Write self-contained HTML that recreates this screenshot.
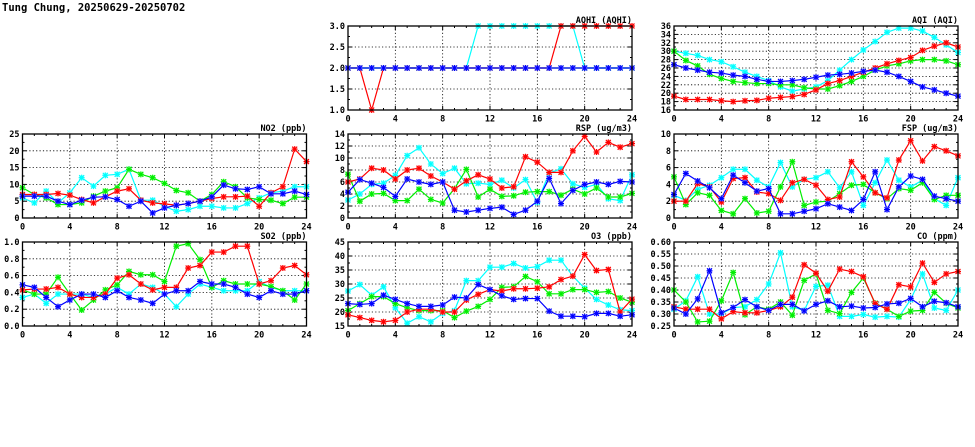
<!DOCTYPE html>
<html><head><meta charset="utf-8"><style>
html,body{margin:0;padding:0;background:#fff;}
svg{display:block;}
text{font-family:"DejaVu Sans Mono","Liberation Mono",monospace;font-weight:bold;font-size:8.5px;fill:#000;}
.t{font-size:9px;}
.xl{text-anchor:middle;}
.yl{text-anchor:end;}
.ti{text-anchor:end;}
</style></head><body>
<svg id="s" width="975" height="447" viewBox="0 0 975 447" xmlns="http://www.w3.org/2000/svg">
<rect width="975" height="447" fill="#fff"/>
<text x="2" y="11" class="t" style="font-size:10.5px">Tung Chung, 20250629-20250702</text>

<g id="AQHI" transform="translate(348,26)">
<text x="284" y="-3" class="ti">AQHI (AQHI)</text>
<text x="-3" y="87" class="yl">1.0</text><text x="-3" y="66" class="yl">1.5</text><text x="-3" y="45" class="yl">2.0</text><text x="-3" y="24" class="yl">2.5</text><text x="-3" y="3" class="yl">3.0</text>
<text x="0" y="95.5" class="xl">0</text><text x="47.3" y="95.5" class="xl">4</text><text x="94.7" y="95.5" class="xl">8</text><text x="142" y="95.5" class="xl">12</text><text x="189.3" y="95.5" class="xl">16</text><text x="236.7" y="95.5" class="xl">20</text><text x="284" y="95.5" class="xl">24</text>
</g>
<g id="AQI" transform="translate(674,26)">
<text x="284" y="-3" class="ti">AQI (AQI)</text>
<text x="-3" y="87" class="yl">16</text><text x="-3" y="78.6" class="yl">18</text><text x="-3" y="70.2" class="yl">20</text><text x="-3" y="61.8" class="yl">22</text><text x="-3" y="53.4" class="yl">24</text><text x="-3" y="45" class="yl">26</text><text x="-3" y="36.6" class="yl">28</text><text x="-3" y="28.2" class="yl">30</text><text x="-3" y="19.8" class="yl">32</text><text x="-3" y="11.4" class="yl">34</text><text x="-3" y="3" class="yl">36</text>
<text x="0" y="95.5" class="xl">0</text><text x="47.3" y="95.5" class="xl">4</text><text x="94.7" y="95.5" class="xl">8</text><text x="142" y="95.5" class="xl">12</text><text x="189.3" y="95.5" class="xl">16</text><text x="236.7" y="95.5" class="xl">20</text><text x="284" y="95.5" class="xl">24</text>
</g>
<g id="NO2" transform="translate(22.5,134)">
<text x="284" y="-3" class="ti">NO2 (ppb)</text>
<text x="-3" y="87" class="yl">0</text><text x="-3" y="70.2" class="yl">5</text><text x="-3" y="53.4" class="yl">10</text><text x="-3" y="36.6" class="yl">15</text><text x="-3" y="19.8" class="yl">20</text><text x="-3" y="3" class="yl">25</text>
<text x="0" y="95.5" class="xl">0</text><text x="47.3" y="95.5" class="xl">4</text><text x="94.7" y="95.5" class="xl">8</text><text x="142" y="95.5" class="xl">12</text><text x="189.3" y="95.5" class="xl">16</text><text x="236.7" y="95.5" class="xl">20</text><text x="284" y="95.5" class="xl">24</text>
</g>
<g id="RSP" transform="translate(348,134)">
<text x="284" y="-3" class="ti">RSP (ug/m3)</text>
<text x="-3" y="87" class="yl">0</text><text x="-3" y="75" class="yl">2</text><text x="-3" y="63" class="yl">4</text><text x="-3" y="51" class="yl">6</text><text x="-3" y="39" class="yl">8</text><text x="-3" y="27" class="yl">10</text><text x="-3" y="15" class="yl">12</text><text x="-3" y="3" class="yl">14</text>
<text x="0" y="95.5" class="xl">0</text><text x="47.3" y="95.5" class="xl">4</text><text x="94.7" y="95.5" class="xl">8</text><text x="142" y="95.5" class="xl">12</text><text x="189.3" y="95.5" class="xl">16</text><text x="236.7" y="95.5" class="xl">20</text><text x="284" y="95.5" class="xl">24</text>
</g>
<g id="FSP" transform="translate(674,134)">
<text x="284" y="-3" class="ti">FSP (ug/m3)</text>
<text x="-3" y="87" class="yl">0</text><text x="-3" y="70.2" class="yl">2</text><text x="-3" y="53.4" class="yl">4</text><text x="-3" y="36.6" class="yl">6</text><text x="-3" y="19.8" class="yl">8</text><text x="-3" y="3" class="yl">10</text>
<text x="0" y="95.5" class="xl">0</text><text x="47.3" y="95.5" class="xl">4</text><text x="94.7" y="95.5" class="xl">8</text><text x="142" y="95.5" class="xl">12</text><text x="189.3" y="95.5" class="xl">16</text><text x="236.7" y="95.5" class="xl">20</text><text x="284" y="95.5" class="xl">24</text>
</g>
<g id="SO2" transform="translate(22.5,242)">
<text x="284" y="-3" class="ti">SO2 (ppb)</text>
<text x="-3" y="87" class="yl">0.0</text><text x="-3" y="70.2" class="yl">0.2</text><text x="-3" y="53.4" class="yl">0.4</text><text x="-3" y="36.6" class="yl">0.6</text><text x="-3" y="19.8" class="yl">0.8</text><text x="-3" y="3" class="yl">1.0</text>
<text x="0" y="95.5" class="xl">0</text><text x="47.3" y="95.5" class="xl">4</text><text x="94.7" y="95.5" class="xl">8</text><text x="142" y="95.5" class="xl">12</text><text x="189.3" y="95.5" class="xl">16</text><text x="236.7" y="95.5" class="xl">20</text><text x="284" y="95.5" class="xl">24</text>
</g>
<g id="O3" transform="translate(348,242)">
<text x="284" y="-3" class="ti">O3 (ppb)</text>
<text x="-3" y="87" class="yl">15</text><text x="-3" y="73" class="yl">20</text><text x="-3" y="59" class="yl">25</text><text x="-3" y="45" class="yl">30</text><text x="-3" y="31" class="yl">35</text><text x="-3" y="17" class="yl">40</text><text x="-3" y="3" class="yl">45</text>
<text x="0" y="95.5" class="xl">0</text><text x="47.3" y="95.5" class="xl">4</text><text x="94.7" y="95.5" class="xl">8</text><text x="142" y="95.5" class="xl">12</text><text x="189.3" y="95.5" class="xl">16</text><text x="236.7" y="95.5" class="xl">20</text><text x="284" y="95.5" class="xl">24</text>
</g>
<g id="CO" transform="translate(674,242)">
<text x="284" y="-3" class="ti">CO (ppm)</text>
<text x="-3" y="87" class="yl">0.25</text><text x="-3" y="75" class="yl">0.30</text><text x="-3" y="63" class="yl">0.35</text><text x="-3" y="51" class="yl">0.40</text><text x="-3" y="39" class="yl">0.45</text><text x="-3" y="27" class="yl">0.50</text><text x="-3" y="15" class="yl">0.55</text><text x="-3" y="3" class="yl">0.60</text>
<text x="0" y="95.5" class="xl">0</text><text x="47.3" y="95.5" class="xl">4</text><text x="94.7" y="95.5" class="xl">8</text><text x="142" y="95.5" class="xl">12</text><text x="189.3" y="95.5" class="xl">16</text><text x="236.7" y="95.5" class="xl">20</text><text x="284" y="95.5" class="xl">24</text>
</g>
</svg>
<script>
var W=284,H=84,NS="http://www.w3.org/2000/svg";
function el(g,n,a){var e=document.createElementNS(NS,n);for(var k in a)e.setAttribute(k,a[k]);g.appendChild(e);return e;}
var P={
AQHI:{min:1,max:3,step:0.5,d:{
c:[2,2,2,2,2,2,2,2,2,2,2,3,3,3,3,3,3,3,3,3,2,2,2,2,2],
g:[2,2,2,2,2,2,2,2,2,2,2,2,2,2,2,2,2,2,2,2,2,2,2,2,2],
r:[2,2,1,2,2,2,2,2,2,2,2,2,2,2,2,2,2,2,3,3,3,3,3,3,3],
b:[2,2,2,2,2,2,2,2,2,2,2,2,2,2,2,2,2,2,2,2,2,2,2,2,2]}},
AQI:{min:16,max:36,step:2,d:{
c:[30,29.5,29,28,27.5,26.3,25,24,23,21.5,20.5,21,21.5,23,25.5,28,30.3,32.3,34.5,35.5,35.5,34.8,33.3,31.5,29.7],
g:[30,27.8,26.5,24.5,23.5,22.8,22.5,22.3,22.3,22,22,21.3,21,21,21.8,22.8,24,25.5,26.5,27,27.7,28,28,27.7,26.8],
b:[26.8,26,25.5,25,24.8,24.3,24,23.3,22.8,22.8,23,23.3,23.8,24.3,24.5,24.8,25.2,25.5,25,24,22.8,21.5,20.8,20,19.3],
r:[19.3,18.5,18.5,18.5,18.2,18,18.2,18.3,18.8,19,19.2,19.7,20.8,22.3,23,24,25,26,27,27.8,28.5,30.2,31.2,32,31]}},
NO2:{min:0,max:25,step:5,d:{
c:[6,4.5,8,4.5,7.5,12,9.5,12.7,13,14.5,5.3,5.3,3.5,2,2.5,3.5,3.5,3,3,4.3,6,7.5,8,9.3,9.3],
g:[9,7,6,4,4,4.5,6.5,8,9,14.5,13,12,10.3,8.2,7.5,5,7,10.8,9.3,6,5.5,5.3,4.3,6.2,6.2],
b:[6.5,6.5,6.5,5,4,5.3,6.2,6.3,5.5,3.5,5,1.5,3,3.8,4.3,5,6.3,9.8,8.7,8.5,9.3,7.2,7.2,8,7],
r:[7,7,7,7.3,6.8,5.5,4.5,6.3,8,8.7,5.3,4.5,4.2,3.8,4.3,5,5.8,6.3,6.3,6.5,3.5,7.5,9.3,20.5,16.8]}},
RSP:{min:0,max:14,step:2,d:{
c:[3,4,5.6,5.8,7.1,10.4,11.7,9,7.4,8.3,5.7,5.8,5.6,6.3,5,6.4,2.6,7.5,8.2,5.7,5.1,5.6,3.2,2.9,7.2],
g:[7.3,2.8,4,4.1,2.9,2.9,4.8,3.1,2.5,4.9,8.1,3.5,4.8,3.6,3.7,4.3,4.4,4.4,3.8,4.8,4,5,3.5,3.5,4.1],
b:[4.3,6.4,5.8,5.1,3.6,6.5,6,5.6,6,1.3,1,1.3,1.6,1.8,0.6,1.3,2.8,6.6,2.4,4.6,5.6,6,5.6,6.1,6],
r:[6,6.5,8.3,8,6.5,8,8.3,7,6,4.8,6.2,7.2,6.5,5,5.2,10.2,9.3,7.6,7.6,11.2,13.6,11,12.6,11.8,12.4]}},
FSP:{min:0,max:10,step:2,d:{
c:[2.7,2.1,3.4,3.9,4.8,5.8,5.8,4.5,3.7,6.6,3.7,4.6,4.8,5.5,3.6,5.5,1.5,4.2,6.9,4.5,3.7,4.5,2.3,1.5,4.8],
g:[4.9,1.6,3,2.7,0.9,0.5,2.3,0.6,0.8,3.7,6.7,1.5,1.9,2,2.9,3.9,4,3,2.3,3.5,3.3,4.2,2.2,2.7,2.7],
b:[2.8,5.3,4.4,3.6,2.3,5.1,4.2,3.2,3.5,0.5,0.5,0.8,1.1,1.7,1.3,0.9,2.2,5.5,1,3.7,5,4.6,2.6,2.3,2],
r:[2,2,4.1,3.7,1.9,4.7,4.8,3.1,2.9,2.1,4.2,4.6,3.9,2.2,2.5,6.7,4.9,3,2.4,6.9,9.2,6.8,8.5,8,7.4]}},
SO2:{min:0,max:1,step:0.2,d:{
c:[.34,.38,.27,.38,.38,.38,.34,.38,.46,.38,.5,.46,.38,.23,.38,.5,.46,.42,.42,.42,.53,.46,.42,.42,.42],
g:[.43,.38,.38,.58,.38,.19,.31,.43,.49,.65,.61,.61,.53,.95,.98,.79,.46,.54,.5,.5,.5,.47,.42,.31,.5],
b:[.49,.46,.34,.23,.31,.38,.38,.34,.42,.34,.31,.27,.38,.42,.42,.53,.5,.5,.46,.38,.34,.42,.38,.38,.42],
r:[.43,.44,.44,.46,.38,.34,.34,.38,.57,.61,.5,.43,.46,.46,.69,.72,.88,.88,.95,.95,.5,.54,.69,.72,.61]}},
O3:{min:15,max:45,step:5,d:{
c:[27.5,29.8,26,29,21.5,16,18.3,16.5,19.5,20.5,31.2,31.2,36,36,37.3,35.7,36.2,38.5,38.5,32.8,28.5,24.5,22.5,20.8,20.5],
g:[20.5,23,25.5,25.5,23,21.5,20.5,20.5,20.5,18,20.3,22,24.5,28.8,29,32.7,30.8,26.5,26.5,28,28,27,27.3,25,23.5],
b:[23,22.7,23,26,24.5,23,22,22,22.5,25.3,25,29.8,28,25.8,24.5,24.8,24.8,20.3,18.5,18.5,18.3,19.5,19.5,18.5,19],
r:[19,18,17,16.5,17,20,21,21,20,20,24.3,26.3,28,27.5,28.3,28.3,28.5,29,31.6,32.8,40.5,34.8,35.2,20,24.6]}},
CO:{min:0.25,max:0.6,step:0.05,d:{
c:[.32,.355,.455,.3,.3,.327,.33,.36,.425,.555,.33,.315,.415,.42,.29,.29,.298,.287,.29,.287,.36,.467,.325,.315,.4],
g:[.4,.35,.267,.27,.355,.473,.297,.33,.32,.35,.295,.44,.467,.315,.302,.39,.45,.345,.32,.29,.312,.315,.39,.345,.325],
b:[.325,.3,.363,.48,.305,.327,.36,.33,.315,.34,.34,.313,.34,.355,.33,.333,.325,.327,.342,.345,.365,.33,.353,.347,.33],
r:[.33,.32,.32,.32,.28,.31,.305,.305,.315,.33,.37,.505,.47,.395,.487,.477,.455,.343,.32,.422,.413,.512,.432,.467,.477]}}
};
var COL={c:"#00ffff",g:"#00ee00",b:"#0000ff",r:"#ff0000"};
var LITE={c:"#aaffff",g:"#aaffaa",b:"#aaaaff",r:"#ffaaaa"};
for(var id in P){
 var p=P[id],g=document.getElementById(id);
 var n=Math.round((p.max-p.min)/p.step);
 var sy=function(v){return H*(1-(v-p.min)/(p.max-p.min));};
 var clip=el(g,"g",{});
 for(var i=1;i<n;i++){var y=H*i/n;el(clip,"line",{x1:0,x2:W,y1:y,y2:y,stroke:"#000","stroke-width":0.8,"stroke-dasharray":"1.2,2.2"});}
 for(var h=4;h<24;h+=4){var x=W*h/24;el(clip,"line",{x1:x,x2:x,y1:0,y2:H,stroke:"#000","stroke-width":0.8,"stroke-dasharray":"1.2,2.2"});}
 for(var h=1;h<24;h++){var x=W*h/24,L=(h%4==0)?4:2;el(clip,"line",{x1:x,x2:x,y1:H,y2:H-L,stroke:"#000"});el(clip,"line",{x1:x,x2:x,y1:0,y2:L,stroke:"#000"});}
 for(var i=1;i<2*n;i++){var y=H*i/(2*n),L=(i%2==0)?4:2;el(clip,"line",{x1:0,x2:L,y1:y,y2:y,stroke:"#000"});el(clip,"line",{x1:W,x2:W-L,y1:y,y2:y,stroke:"#000"});}
 ["c","g","r","b"].forEach(function(k){
  var d=p.d[k],pts=[];
  for(var i=0;i<25;i++)pts.push((W*i/24).toFixed(2)+","+sy(d[i]).toFixed(2));
  el(clip,"polyline",{points:pts.join(" "),fill:"none",stroke:COL[k],"stroke-width":1.2});
  for(var i=0;i<25;i++){var x=W*i/24,y=sy(d[i]),s=2.5;
   el(clip,"rect",{x:x-s,y:y-s,width:2*s,height:2*s,fill:LITE[k]});
   el(clip,"path",{d:"M"+(x-s)+" "+(y-s)+"L"+(x+s)+" "+(y+s)+"M"+(x-s)+" "+(y+s)+"L"+(x+s)+" "+(y-s)+"M"+x+" "+(y-s-0.5)+"V"+(y+s+0.5)+"M"+(x-s-0.5)+" "+y+"H"+(x+s+0.5),stroke:COL[k],"stroke-width":1.1,fill:"none"});
  }
 });
 el(g,"rect",{x:0,y:0,width:W,height:H,fill:"none",stroke:"#000","stroke-width":1.3});
}
</script>
</body></html>
